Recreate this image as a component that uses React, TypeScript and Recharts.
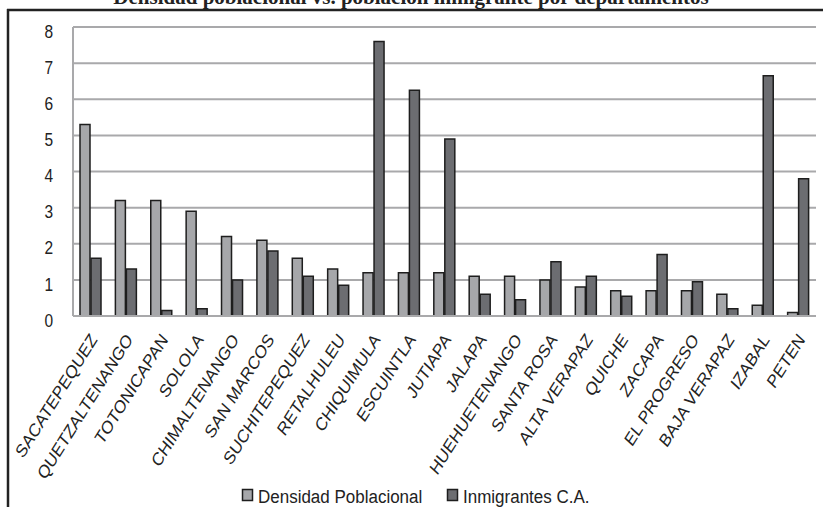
import React from 'react';
import { BarChart, Bar, XAxis, YAxis, CartesianGrid } from 'recharts';

const categories = ['SACATEPEQUEZ', 'QUETZALTENANGO', 'TOTONICAPAN', 'SOLOLA', 'CHIMALTENANGO', 'SAN MARCOS', 'SUCHITEPEQUEZ', 'RETALHULEU', 'CHIQUIMULA', 'ESCUINTLA', 'JUTIAPA', 'JALAPA', 'HUEHUETENANGO', 'SANTA ROSA', 'ALTA VERAPAZ', 'QUICHE', 'ZACAPA', 'EL PROGRESO', 'BAJA VERAPAZ', 'IZABAL', 'PETEN'];
const densidad = [5.3, 3.2, 3.2, 2.9, 2.2, 2.1, 1.6, 1.3, 1.2, 1.2, 1.2, 1.1, 1.1, 1.0, 0.8, 0.7, 0.7, 0.7, 0.6, 0.3, 0.1];
const inmigrantes = [1.6, 1.3, 0.15, 0.2, 1.0, 1.8, 1.1, 0.85, 7.6, 6.25, 4.9, 0.6, 0.45, 1.5, 1.1, 0.55, 1.7, 0.95, 0.2, 6.65, 3.8];
const yTicks = [0, 1, 2, 3, 4, 5, 6, 7, 8];
const title = 'Densidad poblacional vs. población inmigrante por departamentos';
const seriesNames = ['Densidad Poblacional', 'Inmigrantes C.A.'];

const data = categories.map((c, i) => ({ name: c, dens: densidad[i], inm: inmigrantes[i] }));

const LIGHT = '#a6a7aa';
const DARK = '#6c6d71';
const EDGE = '#1e1e1e';
const GRID = '#a9a9ab';
const FONT = '"Liberation Sans", Arial, sans-serif';

const YTick = (props: any) => {
  const { x, y, payload } = props;
  return (
    <g transform={`translate(${x - 20},${y + 4}) scale(1,1.2)`}>
      <text x={0} y={0} dy="0.36em" textAnchor="end" fontSize={15.5} fontFamily={FONT} fill="#222">
        {payload.value}
      </text>
    </g>
  );
};

const XTick = (props: any) => {
  const { x, y, payload } = props;
  return (
    <g transform={`translate(${x + 3},${y + 20}) scale(1,1.2) rotate(-53)`}>
      <text x={0} y={0} dy="0.35em" textAnchor="end" fontSize={15.5} fontFamily={FONT} fill="#222">
        {payload.value}
      </text>
    </g>
  );
};

export default function App() {
  return (
    <div style={{ position: 'absolute', left: 0, top: 0, width: 823, height: 507, background: '#fff', overflow: 'hidden' }}>
      <BarChart
        width={823}
        height={507}
        data={data}
        margin={{ top: 27, right: 7, bottom: 0, left: 0 }}
        barSize={10}
        barGap={1}
      >
        <CartesianGrid vertical={false} stroke={GRID} strokeWidth={2} />
        <XAxis
          dataKey="name"
          height={191}
          interval={0}
          tickLine={false}
          tickSize={0}
          tickMargin={0}
          axisLine={{ stroke: GRID, strokeWidth: 2 }}
          tick={<XTick />}
        />
        <YAxis
          width={73}
          domain={[0, 8]}
          ticks={yTicks}
          interval={0}
          tickLine={false}
          tickSize={0}
          tickMargin={0}
          axisLine={{ stroke: GRID, strokeWidth: 2 }}
          tick={<YTick />}
        />
        <Bar dataKey="dens" name={seriesNames[0]} fill={LIGHT} stroke={EDGE} strokeWidth={1.5} isAnimationActive={false} />
        <Bar dataKey="inm" name={seriesNames[1]} fill={DARK} stroke={EDGE} strokeWidth={1.5} isAnimationActive={false} />
      </BarChart>
      <svg width={823} height={507} style={{ position: 'absolute', left: 0, top: 0, pointerEvents: 'none' }}>
        <text x={411} y={4} textAnchor="middle" fontSize={21} fontWeight="bold" fontFamily='"Liberation Serif", "Times New Roman", serif' fill="#222">
          {title}
        </text>
        <line x1={7} y1={10} x2={823} y2={10} stroke="#222" strokeWidth={2.5} />
        <line x1={8} y1={9} x2={8} y2={507} stroke="#222" strokeWidth={2.5} />
        <rect x={242.5} y={489.5} width={10} height={11} fill={LIGHT} stroke={EDGE} strokeWidth={1.5} />
        <g transform="translate(258,502.5) scale(1,1.12)">
          <text x={0} y={0} fontSize={17} fontFamily={FONT} fill="#222">{seriesNames[0]}</text>
        </g>
        <rect x={447.5} y={489.5} width={10} height={11} fill={DARK} stroke={EDGE} strokeWidth={1.5} />
        <g transform="translate(463,502.5) scale(1,1.12)">
          <text x={0} y={0} fontSize={17} fontFamily={FONT} fill="#222">{seriesNames[1]}</text>
        </g>
      </svg>
    </div>
  );
}
